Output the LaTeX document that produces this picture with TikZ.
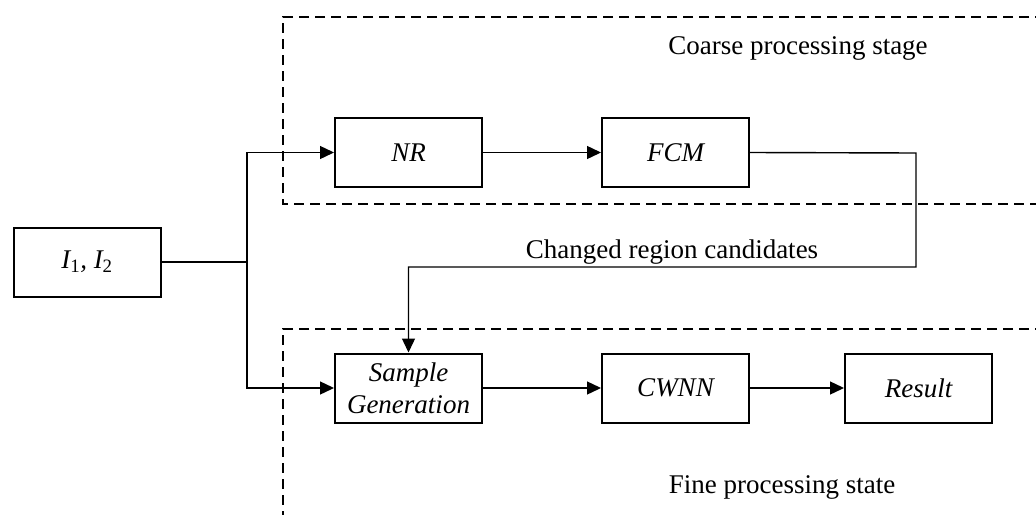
\documentclass[tikz,border=0pt]{standalone}
\usepackage{fontspec}
\setmainfont{Liberation Serif}
\usetikzlibrary{arrows.meta}
\tikzset{
  blk/.style={draw, line width=2pt, minimum width=147pt, minimum height=69pt, inner sep=0pt, font=\fontsize{27}{32}\selectfont\itshape, align=center},
  lbl/.style={inner sep=0pt, font=\fontsize{27}{32}\selectfont},
  conn/.style={line width=1.4pt},
  arr/.style={line width=1.4pt, -{Triangle[length=14pt,width=13pt]}},
  stage/.style={line width=1.5pt, dash pattern=on 10pt off 6pt}
}
\begin{document}
\begin{tikzpicture}[x=1pt,y=-1pt]
\useasboundingbox (0,0) rectangle (1036,514);
\clip (0,0) rectangle (1036,514);
\fill[white] (0,0) rectangle (1036,514);
% stage frames
\draw[stage] (1045,17) -- (283,17) -- (283,204) -- (1045,204);
\draw[stage] (1045,329) -- (283,329) -- (283,525);
\node[lbl] (coarse) at (798,48) {Coarse processing stage};
\node[lbl] (fine) at (782,487) {Fine processing state};
% blocks
\node[blk] (in) at (87,262) {\textit{I}\textsubscript{\upshape 1}, \textit{I}\textsubscript{\upshape 2}};
\node[blk] (nr) at (408.5,152.5) {NR};
\node[blk] (fcm) at (675.5,152.5) {FCM};
\node[blk] (sg) at (408.5,388) {Sample\\Generation};
\node[blk] (cwnn) at (675.5,388) {CWNN};
\node[blk] (res) at (918.5,388) {Result};
% connectors
\coordinate (split) at (247,262);
\coordinate (fcmr) at (916,153);
\coordinate (back) at (916,267);
\draw[conn] (in.east) -- (split);
\draw[arr] (split) |- (nr.west);
\draw[arr] (split) |- (sg.west);
\draw[arr] (nr.east) -- (fcm.west);
\draw[arr] (fcm.east) -- (fcmr) -- (back) -| (sg.north);
\node[lbl] (cand) at (672,252) {Changed region candidates};
\draw[arr] (sg.east) -- (cwnn.west);
\draw[arr] (cwnn.east) -- (res.west);
\end{tikzpicture}
\end{document}
